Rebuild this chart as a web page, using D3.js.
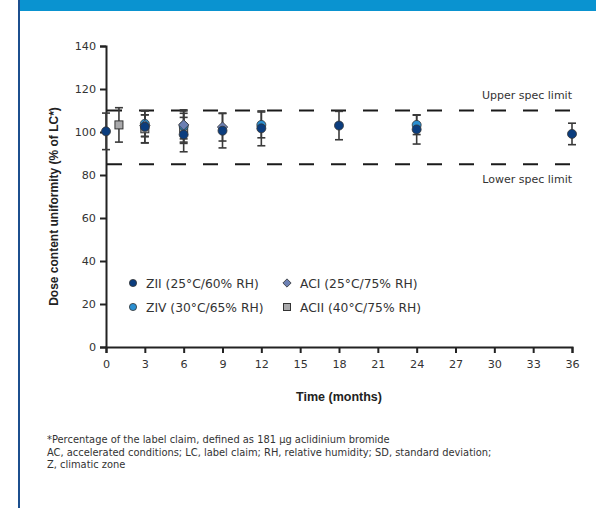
<!DOCTYPE html>
<html>
<head>
<meta charset="utf-8">
<script src="https://cdn.jsdelivr.net/npm/d3@7"></script>
<style>
  html, body { margin: 0; padding: 0; background: #fff; }
  svg { display: block; font-family: "DejaVu Sans", Verdana, sans-serif; }
</style>
</head>
<body>
<svg id="chart" width="596" height="508"></svg>
<script>
// Dose content uniformity over storage time, mean ± SD per storage condition
const xTicks = [0, 3, 6, 9, 12, 15, 18, 21, 24, 27, 30, 33, 36];
const yTicks = [0, 20, 40, 60, 80, 100, 120, 140];
const specLimits = { upper: 110, lower: 85 };

const zIIMonths = [0, 3, 6, 9, 12, 18, 24, 36];
const zIIMean   = [100.3, 102.4, 98.8, 100.6, 101.7, 103.0, 101.2, 99.1];
const zIISD     = [8.5, 7.5, 8.0, 8.0, 8.1, 6.6, 6.8, 5.0];

const zIVMonths = [3, 6, 12, 24];
const zIVMean   = [103.8, 102.8, 103.3, 103.3];
const zIVSD     = [6.0, 7.5, 6.0, 4.5];

const aCIMonths = [3, 6, 9];
const aCIMean   = [103.0, 103.3, 102.3];
const aCISD     = [5.0, 6.5, 6.5];

const aCIIMonths = [1, 3, 6];
const aCIIMean   = [103.3, 101.5, 101.7];
const aCIISD     = [8.0, 6.5, 7.0];

const seriesNames = ["ZII (25°C/60% RH)", "ZIV (30°C/65% RH)", "ACI (25°C/75% RH)", "ACII (40°C/75% RH)"];

const footnotes = [
  "*Percentage of the label claim, defined as 181 µg aclidinium bromide",
  "AC, accelerated conditions; LC, label claim; RH, relative humidity; SD, standard deviation;",
  "Z, climatic zone"
];

const series = [
  { name: seriesNames[3], months: aCIIMonths, mean: aCIIMean, sd: aCIISD, shape: "square",  fill: "#a9a9ab" },
  { name: seriesNames[1], months: zIVMonths,  mean: zIVMean,  sd: zIVSD,  shape: "circle",  fill: "#2b8fd1" },
  { name: seriesNames[2], months: aCIMonths,  mean: aCIMean,  sd: aCISD,  shape: "diamond", fill: "#6c80b3" },
  { name: seriesNames[0], months: zIIMonths,  mean: zIIMean,  sd: zIISD,  shape: "circle",  fill: "#0b3d7e" }
];
const byName = Object.fromEntries(series.map(s => [s.name, s]));

const bodyFont = "'DejaVu Sans', Verdana, sans-serif";
const titleFont = "'Liberation Sans', Arial, Helvetica, sans-serif";

const svg = d3.select("#chart");

// page frame: top band and left rule
svg.append("rect").attr("x", 18).attr("y", 0).attr("width", 578).attr("height", 11).attr("fill", "#0a93d0");
svg.append("line").attr("x1", 19).attr("x2", 19).attr("y1", 0).attr("y2", 508)
  .attr("stroke", "#1c4f8e").attr("stroke-width", 2);

const x = d3.scaleLinear().domain([0, 36]).range([106, 572]);
const y = d3.scaleLinear().domain([0, 140]).range([347, 46]);

const axisColor = "#222";
const textColor = "#333";

// y axis
const gy = svg.append("g").attr("transform", `translate(${x(0)},0)`)
  .call(d3.axisLeft(y).tickValues(yTicks).tickSize(6).tickPadding(4));
gy.select(".domain").attr("stroke", axisColor).attr("stroke-width", 2);
gy.selectAll(".tick line").attr("stroke", axisColor).attr("stroke-width", 2);
gy.selectAll(".tick text").attr("fill", textColor).style("font-size", "11.2px")
  .style("font-family", bodyFont);

// x axis
const gx = svg.append("g").attr("transform", `translate(0,${y(0)})`)
  .call(d3.axisBottom(x).tickValues(xTicks).tickSize(6).tickPadding(7));
gx.select(".domain").attr("stroke", axisColor).attr("stroke-width", 2);
gx.selectAll(".tick line").attr("stroke", axisColor).attr("stroke-width", 2);
gx.selectAll(".tick text").attr("fill", textColor).style("font-size", "11.2px")
  .style("font-family", bodyFont);

// axis titles
svg.append("text")
  .attr("transform", `translate(58,${(y(0) + y(140)) / 2 + 10}) rotate(-90)`)
  .attr("text-anchor", "middle").attr("fill", "#222")
  .style("font-family", titleFont)
  .style("font-size", "12px").style("font-weight", "bold")
  .text("Dose content uniformity (% of LC*)");
svg.append("text")
  .attr("x", (x(0) + x(36)) / 2).attr("y", 401)
  .attr("text-anchor", "middle").attr("fill", "#222")
  .style("font-family", titleFont)
  .style("font-size", "12.5px").style("font-weight", "bold")
  .text("Time (months)");

// specification limits
[specLimits.upper, specLimits.lower].forEach(v => {
  svg.append("line")
    .attr("x1", x(0) + 1).attr("x2", x(36)).attr("y1", y(v)).attr("y2", y(v))
    .attr("stroke", "#1a1a1a").attr("stroke-width", 2)
    .attr("stroke-dasharray", "15 17");
});
svg.append("text").attr("x", x(36)).attr("y", y(specLimits.upper) - 12)
  .attr("text-anchor", "end").attr("fill", textColor).style("font-size", "11px")
  .text("Upper spec limit");
svg.append("text").attr("x", x(36)).attr("y", y(specLimits.lower) + 19)
  .attr("text-anchor", "end").attr("fill", textColor).style("font-size", "11px")
  .text("Lower spec limit");

// error bars
const capHalf = 4;
series.forEach(s => {
  const g = svg.append("g");
  s.months.forEach((m, i) => {
    const lo = s.mean[i] - s.sd[i], hi = s.mean[i] + s.sd[i];
    const cx = x(m);
    g.append("line").attr("x1", cx).attr("x2", cx).attr("y1", y(lo)).attr("y2", y(hi))
      .attr("stroke", "#3a3a3a").attr("stroke-width", 1.6);
    [lo, hi].forEach(v => g.append("line")
      .attr("x1", cx - capHalf).attr("x2", cx + capHalf).attr("y1", y(v)).attr("y2", y(v))
      .attr("stroke", "#3a3a3a").attr("stroke-width", 1.6));
  });
});

// markers
function drawMarker(g, shape, cx, cy, fill, r) {
  if (shape === "circle") {
    g.append("circle").attr("cx", cx).attr("cy", cy).attr("r", r)
      .attr("fill", fill).attr("stroke", "#333").attr("stroke-width", 0.8);
  } else if (shape === "square") {
    g.append("rect").attr("x", cx - r).attr("y", cy - r).attr("width", 2 * r).attr("height", 2 * r)
      .attr("fill", fill).attr("stroke", "#333").attr("stroke-width", 1);
  } else {
    const d = r * 1.15;
    g.append("path").attr("d", `M${cx},${cy - d}L${cx + d},${cy}L${cx},${cy + d}L${cx - d},${cy}Z`)
      .attr("fill", fill).attr("stroke", "#333").attr("stroke-width", 0.8);
  }
}
series.forEach(s => {
  const g = svg.append("g");
  s.months.forEach((m, i) => drawMarker(g, s.shape, x(m), y(s.mean[i]), s.fill, s.shape === "square" ? 4 : 4.5));
});

// legend
const legendItems = [
  { name: seriesNames[0], lx: 133, ly: 283 },
  { name: seriesNames[2], lx: 287, ly: 283 },
  { name: seriesNames[1], lx: 133, ly: 307 },
  { name: seriesNames[3], lx: 287, ly: 307 }
];
legendItems.forEach(it => {
  const s = byName[it.name];
  const g = svg.append("g");
  drawMarker(g, s.shape, it.lx, it.ly, s.fill, s.shape === "square" ? 3.5 : 3.6);
  g.append("text").attr("x", it.lx + 13).attr("y", it.ly + 4.5)
    .attr("fill", textColor).style("font-size", "12.3px").text(it.name);
});

// footnotes
svg.append("g").selectAll("text").data(footnotes).join("text")
  .attr("x", 47).attr("y", (d, i) => 443 + i * 12.5)
  .attr("fill", "#333").style("font-size", "9.9px").text(d => d);
</script>
</body>
</html>
